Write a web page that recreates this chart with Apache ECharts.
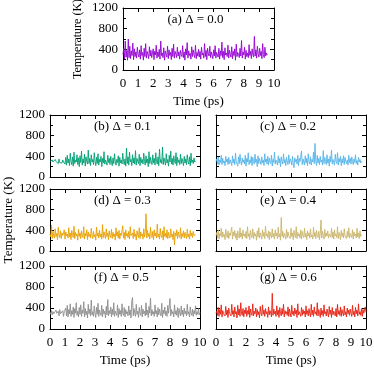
<!DOCTYPE html>
<html>
<head>
<meta charset="utf-8">
<script src="https://cdn.jsdelivr.net/npm/echarts@6/dist/echarts.min.js"></script>
<style>
  html, body { margin: 0; padding: 0; background: #fff; }
  #chart { width: 374px; height: 368px; }
</style>
</head>
<body>
<div id="chart"></div>
<script>
// sampling step of the temperature traces (ps)
const STEP = 0.05;
const timeTicks = [0, 1, 2, 3, 4, 5, 6, 7, 8, 9, 10];
const tempTicks = [0, 400, 800, 1200];

const panelLabels = ['(a) Δ = 0.0', '(b) Δ = 0.1', '(c) Δ = 0.2', '(d) Δ = 0.3',
  '(e) Δ = 0.4', '(f) Δ = 0.5', '(g) Δ = 0.6'];

const tempA = [
  300,420,210,560,250,380,190,600,240,460,220,370,280,520,200,410,260,350,230,440,
  300,250,390,210,470,280,340,190,420,260,510,230,360,300,220,450,270,380,240,330,
  410,200,360,290,480,230,350,260,400,210,560,280,330,240,430,190,370,300,250,460,
  220,390,280,340,200,420,260,500,230,360,310,240,440,270,350,210,380,300,260,470,
  240,350,190,410,290,530,230,370,280,320,210,450,260,390,300,240,480,220,340,270,
  400,250,360,210,440,290,330,230,510,260,380,200,420,310,270,460,240,350,290,220,
  390,270,470,230,340,300,250,420,210,370,280,540,240,360,200,430,290,330,260,480,
  230,380,300,250,450,220,360,280,410,190,500,260,340,300,240,420,270,570,230,350,
  290,440,210,380,260,330,240,490,280,360,220,410,300,250,650,270,390,230,460,310,
  250,420,280,360,220,510,300,240,440,270,330,290];
const tempB = [
  300,320,280,330,290,310,270,340,300,290,320,260,350,280,310,300,270,330,290,310,
  250,380,230,420,270,350,220,460,300,240,390,210,480,260,330,290,430,240,370,200,
  410,280,500,230,350,270,440,210,390,300,250,520,260,360,220,430,290,340,240,470,
  310,220,380,260,450,230,340,290,400,200,360,270,490,250,330,300,230,420,280,360,
  240,400,290,220,370,260,450,300,230,340,280,410,210,380,270,330,250,460,300,240,
  350,210,560,260,390,230,480,290,340,220,430,270,370,250,510,230,360,300,260,440,
  220,380,280,340,250,460,300,230,410,270,350,200,490,260,380,290,240,430,270,360,
  230,470,300,250,390,220,540,280,340,260,580,240,370,300,230,450,270,340,210,420,
  290,500,250,360,230,410,300,260,470,220,380,280,330,240,440,260,360,300,220,400,
  270,350,240,430,300,250,390,220,460,280,330,260,370,290,310];
const tempC = [
  300,350,250,390,230,330,280,420,240,360,270,310,220,400,290,350,240,380,260,330,
  300,220,410,270,350,240,460,290,320,210,390,260,440,300,230,370,280,330,250,420,
  210,360,290,470,240,330,270,400,220,380,300,250,440,280,340,200,410,260,360,300,
  240,390,270,330,220,450,290,350,250,400,230,370,300,260,420,210,340,280,480,250,
  330,290,230,410,270,360,200,390,300,250,450,270,340,220,380,290,240,430,260,350,
  310,230,400,260,180,370,290,340,250,420,220,360,300,270,500,240,350,280,230,410,
  270,360,220,450,300,250,390,230,340,290,480,260,650,300,220,420,270,360,240,400,
  290,330,230,510,260,380,300,240,430,270,350,210,400,290,520,250,340,280,230,440,
  300,260,470,230,360,290,400,220,350,270,410,240,380,300,260,330,230,420,280,360,
  250,390,300,240,350,280,430,260,320,230,380,290,340,270,310];
const tempD = [
  330,270,500,240,380,290,250,430,280,340,220,460,300,260,390,240,350,300,270,410,
  230,370,290,330,250,450,270,350,220,400,300,260,480,240,360,290,330,210,420,280,
  350,240,390,300,260,470,230,340,290,410,220,370,280,330,250,440,300,240,380,270,
  320,210,460,290,350,250,400,270,330,230,510,260,370,300,240,430,280,350,220,390,
  300,260,420,240,360,280,330,210,450,290,370,250,400,230,340,300,270,490,250,360,
  220,410,290,340,260,380,230,470,300,270,350,240,420,280,330,210,390,300,260,450,
  240,370,290,330,230,430,270,360,720,250,400,280,340,230,460,300,260,380,220,410,
  290,350,250,520,270,330,230,440,300,260,390,210,470,280,340,260,410,240,360,300,
  250,430,280,330,220,380,120,350,290,410,240,370,300,260,450,230,340,280,390,250,
  360,300,240,420,270,330,230,400,290,350,260,380,300,270,320];
const tempE = [
  300,360,250,410,230,340,290,440,260,370,280,320,220,420,300,260,390,240,350,300,
  270,460,230,370,290,400,250,340,210,390,300,250,450,270,350,230,410,290,330,260,
  380,240,470,280,340,220,400,300,260,430,240,360,290,330,210,390,270,450,250,350,
  300,230,410,280,360,240,480,290,330,260,390,220,370,300,250,430,270,340,230,410,
  290,350,240,460,270,330,210,650,280,380,250,340,300,230,420,260,370,290,320,240,
  440,280,350,220,400,300,260,470,240,360,290,330,250,410,230,380,300,260,440,270,
  340,220,390,290,350,250,430,270,310,230,460,280,360,240,400,300,260,380,220,350,
  600,250,380,300,230,420,270,350,290,390,250,330,300,270,440,260,370,230,410,290,
  330,260,470,240,360,300,220,400,280,350,250,430,290,320,240,380,270,450,250,340,
  300,260,410,230,370,290,330,250,440,270,350,240,390,280,320];
const tempF = [
  320,280,350,270,330,290,310,260,360,300,280,340,250,370,290,320,270,350,240,330,
  300,400,250,450,230,370,290,480,240,350,280,420,220,390,300,500,260,340,230,410,
  280,460,240,360,300,520,230,390,270,340,210,470,290,380,250,550,270,330,240,440,
  300,220,410,280,490,240,360,300,260,450,230,380,290,340,210,430,270,560,250,350,
  290,420,230,380,270,500,240,340,300,260,460,220,390,280,350,240,480,300,260,410,
  230,370,290,330,250,440,270,360,210,520,600,250,390,300,240,470,280,340,220,410,
  300,260,450,230,380,290,340,250,500,270,360,220,430,300,590,250,370,280,330,240,
  460,290,350,230,410,270,380,300,250,490,220,360,290,420,260,340,240,450,300,270,
  580,250,370,290,330,230,460,280,350,260,410,220,390,300,250,440,270,360,230,400,
  290,340,250,470,280,330,230,420,300,260,380,240,350,290,440,260,330,280,390,270,
  310];
const tempG = [
  300,340,260,410,240,370,280,460,230,350,290,320,250,430,270,360,220,400,300,330,
  250,470,280,350,230,420,290,330,210,450,270,380,240,500,300,260,390,230,360,290,
  410,240,350,280,440,220,380,300,260,480,250,340,290,400,230,370,270,330,210,430,
  300,250,460,280,360,240,390,290,330,220,420,270,350,300,230,680,260,380,290,340,
  240,440,270,360,220,410,300,250,390,280,470,230,350,290,330,260,420,240,380,300,
  230,450,280,340,250,400,290,360,220,480,270,330,300,240,410,260,370,290,340,230,
  440,280,350,250,390,300,230,470,270,360,240,420,290,330,260,500,250,370,300,220,
  400,270,350,240,460,290,330,250,380,300,230,430,280,360,220,410,270,340,300,250,
  390,230,470,280,350,260,420,240,370,300,250,440,270,330,230,400,290,360,260,380,
  300,240,450,270,340,230,410,290,360,250,480,280,330,260,390,240,370,300,270,420,
  320];

const traces = [tempA, tempB, tempC, tempD, tempE, tempF, tempG];
const colors = ['#9400d3', '#009e73', '#56b4e9', '#e69f00', '#c9b46c', '#8c8c8c', '#e51e10'];

// panel boxes in pixels: left, top, width, height
const boxes = [
  [123, 8, 151, 62],
  [50, 115, 150, 62], [216, 115, 150, 62],
  [50, 189, 150, 62], [216, 189, 150, 62],
  [50, 266, 150, 63], [216, 266, 150, 63]
];
const showX = [true, false, false, false, false, true, true];
const showY = [true, true, false, true, false, true, false];

const FONT = '"Liberation Serif", "Times New Roman", serif';
const txt = { color: '#000', fontFamily: FONT, fontSize: 13 };

const grid = [], xAxis = [], yAxis = [], series = [], graphic = [];

boxes.forEach((b, i) => {
  grid.push({ left: b[0], top: b[1], width: b[2], height: b[3], outerBoundsMode: 'none', containLabel: false });
  const common = {
    gridIndex: i, type: 'value', splitLine: { show: false },
    axisLine: { show: true, onZero: false, lineStyle: { color: '#000', width: 1 } },
    axisTick: { show: true, inside: true, length: 4, lineStyle: { color: '#000' } }
  };
  const xRange = { min: timeTicks[0], max: timeTicks[timeTicks.length - 1], interval: 1 };
  const yRange = { min: tempTicks[0], max: tempTicks[tempTicks.length - 1], interval: 400 };
  const minor = { show: true, splitNumber: 2, length: 3, lineStyle: { color: '#000' } };
  xAxis.push(Object.assign({}, common, xRange, {
    position: 'bottom',
    axisLabel: Object.assign({ show: showX[i], margin: 7, formatter: v => String(v) }, txt),
    name: showX[i] ? 'Time (ps)' : '', nameLocation: 'middle', nameGap: 25,
    nameTextStyle: txt
  }));
  xAxis.push(Object.assign({}, common, xRange, { position: 'top', axisLabel: { show: false } }));
  const yName = (i === 0 || i === 3) ? 'Temperature (K)' : '';
  yAxis.push(Object.assign({}, common, yRange, {
    position: 'left', minorTick: minor,
    axisLabel: Object.assign({ show: showY[i], margin: 5, formatter: v => String(v) }, txt),
    name: yName, nameLocation: 'middle', nameGap: i === 0 ? 39 : 34,
    nameTextStyle: Object.assign({}, txt, { fontSize: i === 0 ? 12 : 13 })
  }));
  yAxis.push(Object.assign({}, common, yRange, {
    position: 'right', minorTick: minor, axisLabel: { show: false }
  }));
  series.push({
    type: 'line', xAxisIndex: 2 * i, yAxisIndex: 2 * i,
    data: traces[i].map((v, k) => [k * STEP, v]),
    showSymbol: false, symbol: 'none', sampling: null,
    lineStyle: { color: colors[i], width: 0.9 },
    z: 1
  });
  graphic.push({
    type: 'text', left: b[0] + b[2] / 2 - 31, top: b[1] + 5,
    style: { text: panelLabels[i], fill: '#000', font: '13px ' + FONT }
  });
});

const chart = echarts.init(document.getElementById('chart'));
chart.setOption({
  animation: false,
  backgroundColor: '#fff',
  grid, xAxis, yAxis, series, graphic
});
</script>
</body>
</html>
